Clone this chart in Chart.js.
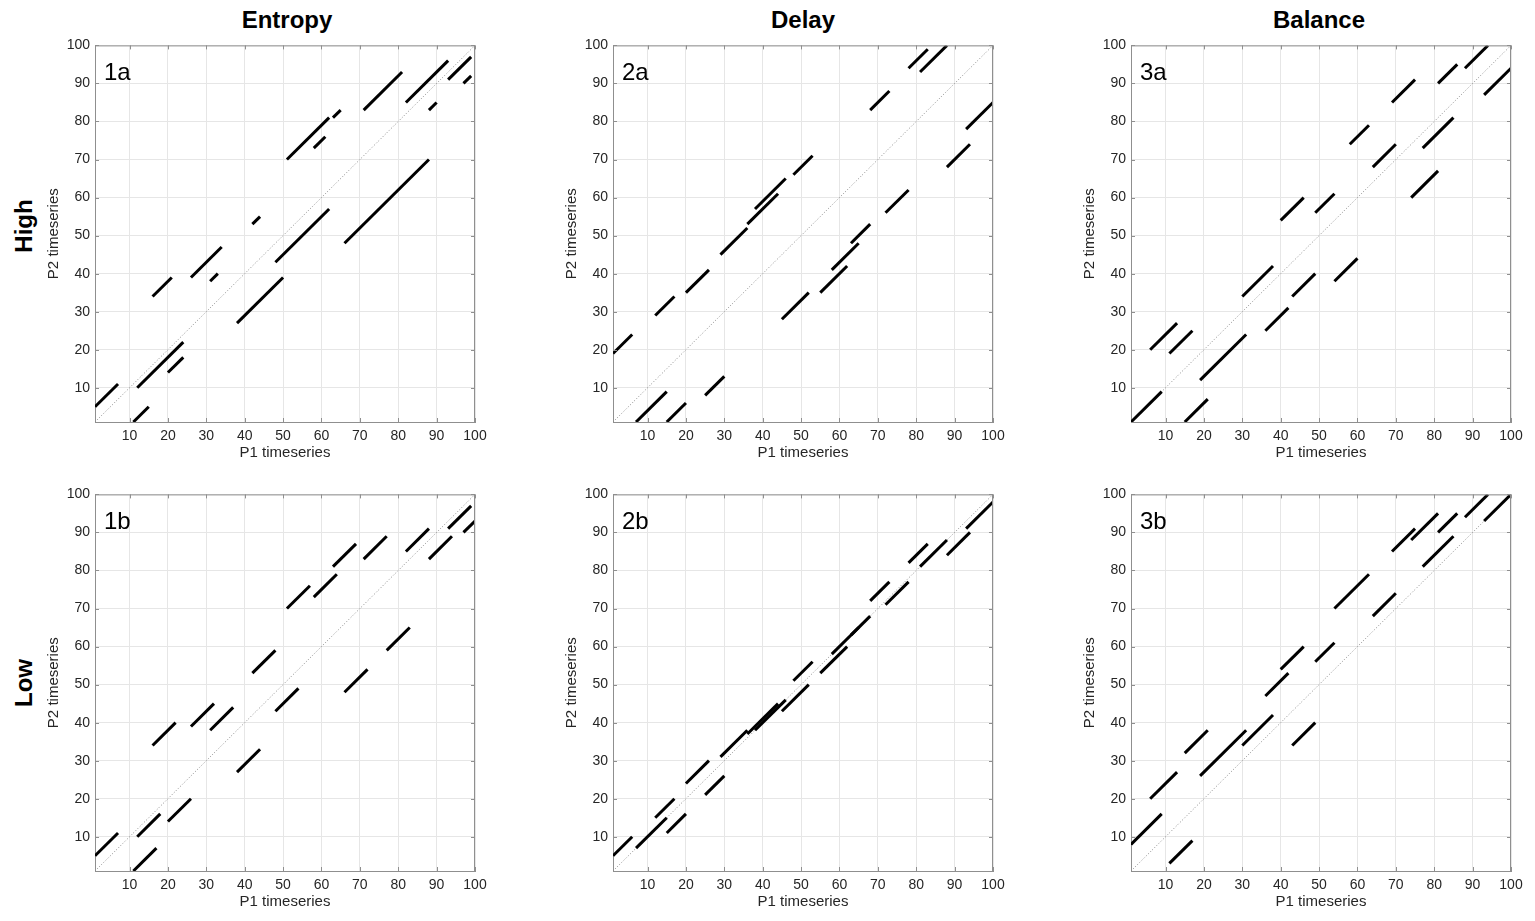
<!DOCTYPE html>
<html>
<head>
<meta charset="utf-8">
<script src="https://cdn.jsdelivr.net/npm/chart.js@4.4.0/dist/chart.umd.min.js"></script>
<style>
  body{margin:0;background:#fff;width:1535px;height:921px;position:relative;overflow:hidden;font-family:"Liberation Sans",Arial,sans-serif;}
  .cv{position:absolute;}
  .coltitle{position:absolute;font-weight:bold;font-size:24px;line-height:24px;color:#000;transform:translateX(-50%);white-space:nowrap;}
  .rowlabel{position:absolute;font-weight:bold;font-size:24px;line-height:24px;color:#000;transform:translate(-50%,-50%) rotate(-90deg);white-space:nowrap;}
</style>
</head>
<body>
<div class="coltitle" style="left:287px;top:8px;">Entropy</div>
<div class="coltitle" style="left:803px;top:8px;">Delay</div>
<div class="coltitle" style="left:1319px;top:8px;">Balance</div>
<div class="rowlabel" style="left:24px;top:226px;">High</div>
<div class="rowlabel" style="left:24px;top:683px;">Low</div>

<canvas id="c1a" class="cv"></canvas>
<canvas id="c2a" class="cv"></canvas>
<canvas id="c3a" class="cv"></canvas>
<canvas id="c1b" class="cv"></canvas>
<canvas id="c2b" class="cv"></canvas>
<canvas id="c3b" class="cv"></canvas>

<script>
// ---- data: each segment is [x1, y1, x2, y2] (P1 timeseries, P2 timeseries) ----
const axisMin = 1;
const axisMax = 100;
const tickValues = [10, 20, 30, 40, 50, 60, 70, 80, 90, 100];
const xAxisLabel = 'P1 timeseries';
const yAxisLabel = 'P2 timeseries';
const panelLabels = ['1a', '2a', '3a', '1b', '2b', '3b'];

const seg1a = [
  [1,5,7,11],[11,1,15,5],[12,10,24,22],[20,14,24,18],[16,34,21,39],[26,39,34,47],
  [31,38,33,40],[38,27,50,39],[42,53,44,55],[48,43,62,57],[51,70,62,81],[58,73,61,76],
  [63,81,65,83],[66,48,88,70],[71,83,81,93],[82,85,93,96],[88,83,90,85],[93,91,99,97],
  [97,90,99,92]
];
const seg2a = [
  [1,19,6,24],[7,1,15,9],[15,1,20,6],[12,29,17,34],[20,35,26,41],[25,8,30,13],
  [29,45,36,52],[36,53,44,61],[38,57,46,65],[48,66,53,71],[45,28,52,35],[55,35,62,42],
  [58,41,65,48],[63,48,68,53],[72,56,78,62],[68,83,73,88],[78,94,83,99],[81,93,88,100],
  [88,68,94,74],[93,78,100,85]
];
const seg3a = [
  [1,1,9,9],[6,20,13,27],[11,19,17,25],[15,1,21,7],[19,12,31,24],[30,34,38,42],
  [36,25,42,31],[40,54,46,60],[43,34,49,40],[49,56,54,61],[54,38,60,44],[58,74,63,79],
  [64,68,70,74],[69,85,75,91],[74,60,81,67],[77,73,85,81],[81,90,86,95],[88,94,94,100],
  [93,87,100,94]
];
const seg1b = [
  [1,5,7,11],[11,1,17,7],[12,10,18,16],[20,14,26,20],[16,34,22,40],[26,39,32,45],
  [31,38,37,44],[38,27,44,33],[42,53,48,59],[48,43,54,49],[51,70,57,76],[58,73,64,79],
  [63,81,69,87],[66,48,72,54],[71,83,77,89],[77,59,83,65],[82,85,88,91],[88,83,94,89],
  [93,91,99,97],[97,90,100,93]
];
const seg2b = [
  [1,5,6,10],[7,7,15,15],[12,15,17,20],[15,11,20,16],[20,24,26,30],[25,21,30,26],
  [29,31,36,38],[36,37,44,45],[38,38,46,46],[45,43,52,50],[48,51,53,56],[55,53,62,60],
  [58,58,65,65],[63,63,68,68],[68,72,73,77],[72,71,78,77],[78,82,83,87],[81,81,88,88],
  [88,84,94,90],[93,91,100,98]
];
const seg3b = [
  [1,8,9,16],[6,20,13,27],[11,3,17,9],[15,32,21,38],[19,26,31,38],[30,34,38,42],
  [36,47,42,53],[40,54,46,60],[43,34,49,40],[49,56,54,61],[54,70,63,79],[64,68,70,74],
  [69,85,75,91],[74,88,81,95],[77,81,85,89],[81,90,86,95],[88,94,94,100],[93,93,100,100]
];

// ---- layout ----
const FONT = '"Liberation Sans", Arial, sans-serif';
const plotLefts = [95, 613, 1131];
const plotTops = [42, 491];
const PLOT = 380;
const YAXW = 50, XAXH = 40, PADT = 10, PADR = 20;

const framePlugin = {
  id: 'frame',
  afterDraw(chart, args, opts) {
    const {ctx, chartArea: a, scales} = chart;
    ctx.save();
    ctx.strokeStyle = '#8f8f8f';
    ctx.lineWidth = 1;
    ctx.beginPath();
    ctx.moveTo(a.left + 0.5, a.top + 0.5);
    ctx.lineTo(a.right - 0.5, a.top + 0.5);
    ctx.lineTo(a.right - 0.5, a.bottom);
    ctx.stroke();
    // inward tick marks on all four sides
    const tl = 4;
    ctx.beginPath();
    scales.x.ticks.forEach(t => {
      const px = Math.round(scales.x.getPixelForValue(t.value)) + 0.5;
      ctx.moveTo(px, a.bottom); ctx.lineTo(px, a.bottom - tl);
      ctx.moveTo(px, a.top); ctx.lineTo(px, a.top + tl);
    });
    scales.y.ticks.forEach(t => {
      const py = Math.round(scales.y.getPixelForValue(t.value)) + 0.5;
      ctx.moveTo(a.left, py); ctx.lineTo(a.left + tl, py);
      ctx.moveTo(a.right, py); ctx.lineTo(a.right - tl, py);
    });
    ctx.stroke();
    // panel label
    ctx.fillStyle = '#000';
    ctx.font = '24px ' + FONT;
    ctx.textBaseline = 'alphabetic';
    ctx.textAlign = 'left';
    ctx.fillText(opts.label, a.left + 9, a.top + 35);
    ctx.restore();
  }
};

function makePanel(id, segs, label, col, row) {
  const cv = document.getElementById(id);
  const W = YAXW + PLOT + PADR, H = PADT + PLOT + XAXH;
  cv.width = W; cv.height = H;
  cv.style.width = W + 'px'; cv.style.height = H + 'px';
  cv.style.left = (plotLefts[col] - YAXW) + 'px';
  cv.style.top = (plotTops[row] - PADT) + 'px';

  const datasets = segs.map(s => ({
    data: [{x: s[0], y: s[1]}, {x: s[2], y: s[3]}],
    showLine: true, borderColor: '#000', borderWidth: 3,
    pointRadius: 0, fill: false
  }));
  datasets.push({
    data: [{x: axisMin, y: axisMin}, {x: axisMax, y: axisMax}],
    showLine: true, borderColor: '#8a8a8a', borderWidth: 1, borderDash: [1, 2],
    pointRadius: 0, fill: false
  });

  const tickFont = {family: FONT, size: 14};
  const common = {
    type: 'linear', min: axisMin, max: axisMax,
    afterBuildTicks: s => { s.ticks = tickValues.map(v => ({value: v})); },
    grid: {color: '#e6e6e6', lineWidth: 1, drawTicks: false},
    border: {display: true, color: '#8f8f8f', width: 1},
  };

  new Chart(cv, {
    type: 'scatter',
    data: {datasets},
    options: {
      responsive: false, animation: false, maintainAspectRatio: false,
      devicePixelRatio: 1,
      layout: {padding: {left: 0, right: PADR, top: PADT, bottom: 0}},
      plugins: {legend: {display: false}, tooltip: {enabled: false}, frame: {label}},
      scales: {
        x: Object.assign({}, common, {
          position: 'bottom',
          afterFit: s => { s.height = XAXH; },
          ticks: {padding: 6, color: '#262626', font: tickFont, maxRotation: 0, autoSkip: false},
          title: {display: true, text: xAxisLabel, color: '#262626', font: {family: FONT, size: 15}, padding: 0}
        }),
        y: Object.assign({}, common, {
          position: 'left',
          afterFit: s => { s.width = YAXW; },
          ticks: {padding: 5, color: '#262626', font: tickFont, autoSkip: false},
          title: {display: true, text: yAxisLabel, color: '#262626', font: {family: FONT, size: 15}, padding: 0}
        })
      }
    },
    plugins: [framePlugin]
  });
}

makePanel('c1a', seg1a, panelLabels[0], 0, 0);
makePanel('c2a', seg2a, panelLabels[1], 1, 0);
makePanel('c3a', seg3a, panelLabels[2], 2, 0);
makePanel('c1b', seg1b, panelLabels[3], 0, 1);
makePanel('c2b', seg2b, panelLabels[4], 1, 1);
makePanel('c3b', seg3b, panelLabels[5], 2, 1);
</script>
</body>
</html>
